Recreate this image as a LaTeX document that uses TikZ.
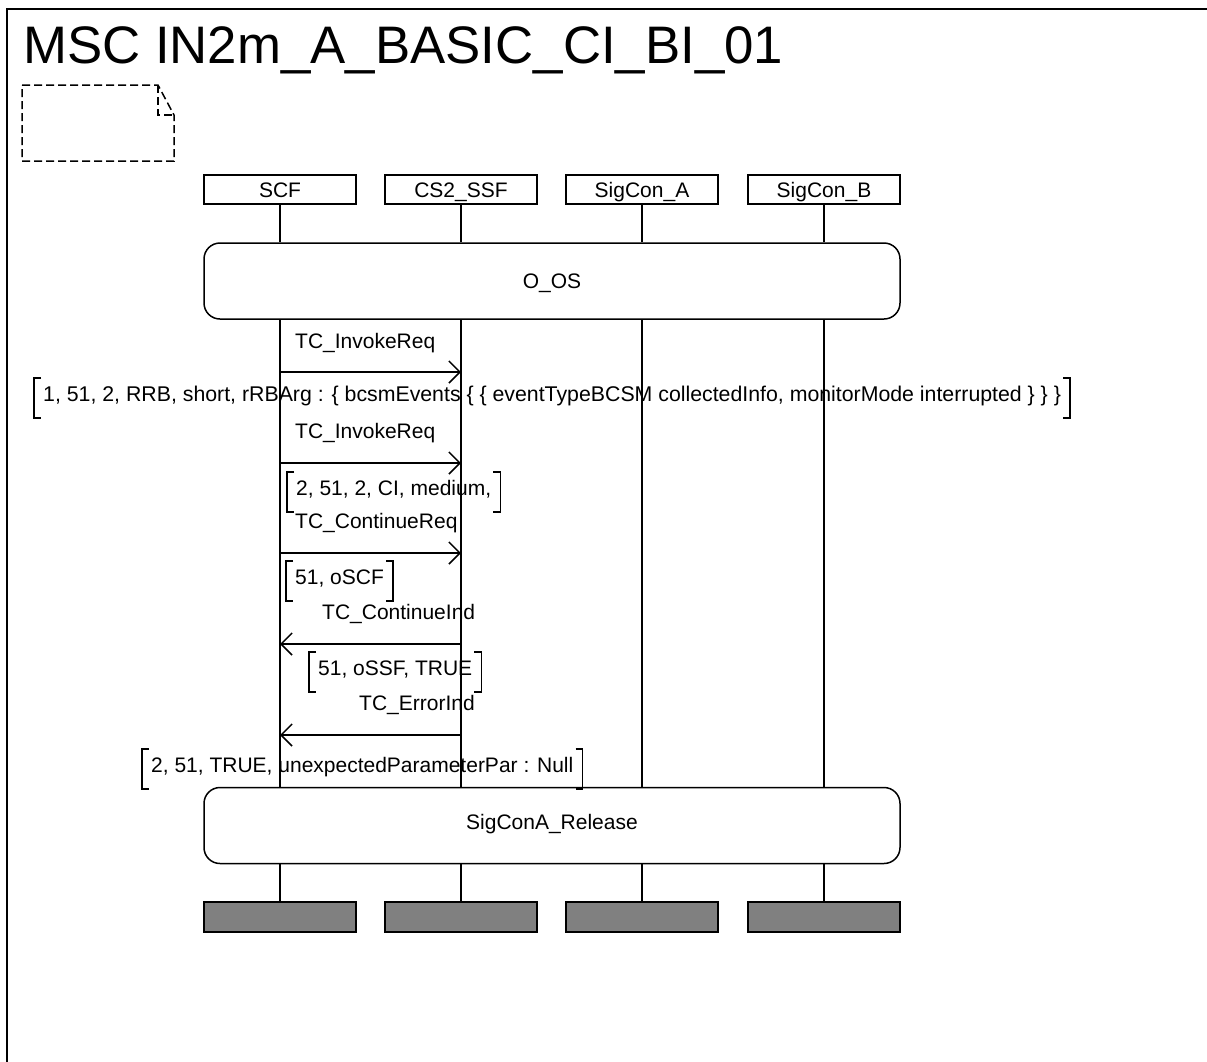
\documentclass[tikz,border=0pt]{standalone}
\usepackage{fontspec}
\setmainfont{Liberation Sans}
\usetikzlibrary{arrows.meta}
\definecolor{endgray}{RGB}{128,128,128}
\newcommand\mscbrk[1]{%
  \draw[ln] ([xshift=7pt]#1.north west) -- (#1.north west) -- (#1.south west) -- ([xshift=7pt]#1.south west);
  \draw[ln] ([xshift=-7pt]#1.north east) -- (#1.north east) -- (#1.south east) -- ([xshift=-7pt]#1.south east);}
\begin{document}
\begin{tikzpicture}[x=1pt,y=-1pt,
  every node/.style={font=\fontsize{21pt}{25pt}\selectfont, inner sep=0pt},
  ln/.style={line width=1.5pt},
  head/.style={draw, line width=1.5pt, minimum width=152pt, minimum height=29pt, text height=16pt, text depth=1pt},
  endbox/.style={draw, line width=1.5pt, fill=endgray, minimum width=152pt, minimum height=30pt},
  cond/.style={draw, line width=1.5pt, rounded corners=16pt, minimum width=696pt, minimum height=76pt, text height=16pt, text depth=1pt},
  msg/.style={line width=1.5pt, -{Straight Barb[length=11pt,width=22pt,line width=1.5pt]}},
  lbl/.style={anchor=base west},
  brk/.style={anchor=base west, inner xsep=9pt, inner ysep=0pt, text height=23pt, text depth=17pt},
]
\useasboundingbox (0,0) rectangle (1207,1061);
% frame
\draw[line width=2pt] (1215,9) -- (7,9) -- (7,1070);
\node[anchor=base west, font=\fontsize{52.8pt}{60pt}\selectfont] (title) at (23,63) {MSC IN2m\_A\_BASIC\_CI\_BI\_01};
% comment note
\draw[ln, dash pattern=on 8pt off 4pt] (22,85) -- (158,85) -- (174,115) -- (174,161) -- (22,161) -- cycle;
\draw[ln, dash pattern=on 8pt off 4pt] (158,85) -- (158,115) -- (174,115);
% instance heads
\node[head] (scf) at (280,189.5) {SCF};
\node[head] (ssf) at (461,189.5) {CS2\_SSF};
\node[head] (sga) at (642,189.5) {SigCon\_A};
\node[head] (sgb) at (824,189.5) {SigCon\_B};
% conditions
\node[cond] (oos) at (552,281) {O\_OS};
\node[cond] (rel) at (552,825.5) {};
\node (reltext) at (552,822) [text height=16pt, text depth=1pt] {SigConA\_Release};
% instance ends
\node[endbox] (scfend) at (280,917) {};
\node[endbox] (ssfend) at (461,917) {};
\node[endbox] (sgaend) at (642,917) {};
\node[endbox] (sgbend) at (824,917) {};
% lifelines
\foreach \i in {scf,ssf,sga,sgb}{
  \draw[ln] (\i.south) -- (\i.south |- oos.north);
  \draw[ln] (\i.south |- oos.south) -- (\i.south |- rel.north);
  \draw[ln] (\i.south |- rel.south) -- (\i end.north);
}
% message coordinates
\coordinate (m1a) at (280,372); \coordinate (m1b) at (461,372);
\coordinate (m2a) at (280,463); \coordinate (m2b) at (461,463);
\coordinate (m3a) at (280,553); \coordinate (m3b) at (461,553);
\coordinate (m4a) at (461,644); \coordinate (m4b) at (280,644);
\coordinate (m5a) at (461,735); \coordinate (m5b) at (280,735);
\draw[msg] (m1a) -- (m1b);
\draw[msg] (m2a) -- (m2b);
\draw[msg] (m3a) -- (m3b);
\draw[msg] (m4a) -- (m4b);
\draw[msg] (m5a) -- (m5b);
% labels
\node[lbl] (l1) at (295,348) {TC\_InvokeReq};
\node[brk, font=\fontsize{21.3pt}{25pt}\selectfont] (p1) at (34,401) {1, 51, 2, RRB, short, rRBArg : \{ bcsmEvents \{ \{ eventTypeBCSM collectedInfo, monitorMode interrupted \} \} \}};
\node[lbl] (l2) at (295,438) {TC\_InvokeReq};
\node[brk] (p2) at (287,495) {2, 51, 2, CI, medium,};
\node[lbl] (l3) at (295,528) {TC\_ContinueReq};
\node[brk] (p3) at (286,584) {51, oSCF};
\node[lbl] (l4) at (322,619) {TC\_ContinueInd};
\node[brk] (p4) at (309,675) {51, oSSF, TRUE};
\node[lbl] (l5) at (359,710) {TC\_ErrorInd};
\node[brk] (p5) at (142,772) {2, 51, TRUE, unexpectedParameterPar : Null};
\mscbrk{p1}
\mscbrk{p2}
\mscbrk{p3}
\mscbrk{p4}
\mscbrk{p5}
\end{tikzpicture}
\end{document}
